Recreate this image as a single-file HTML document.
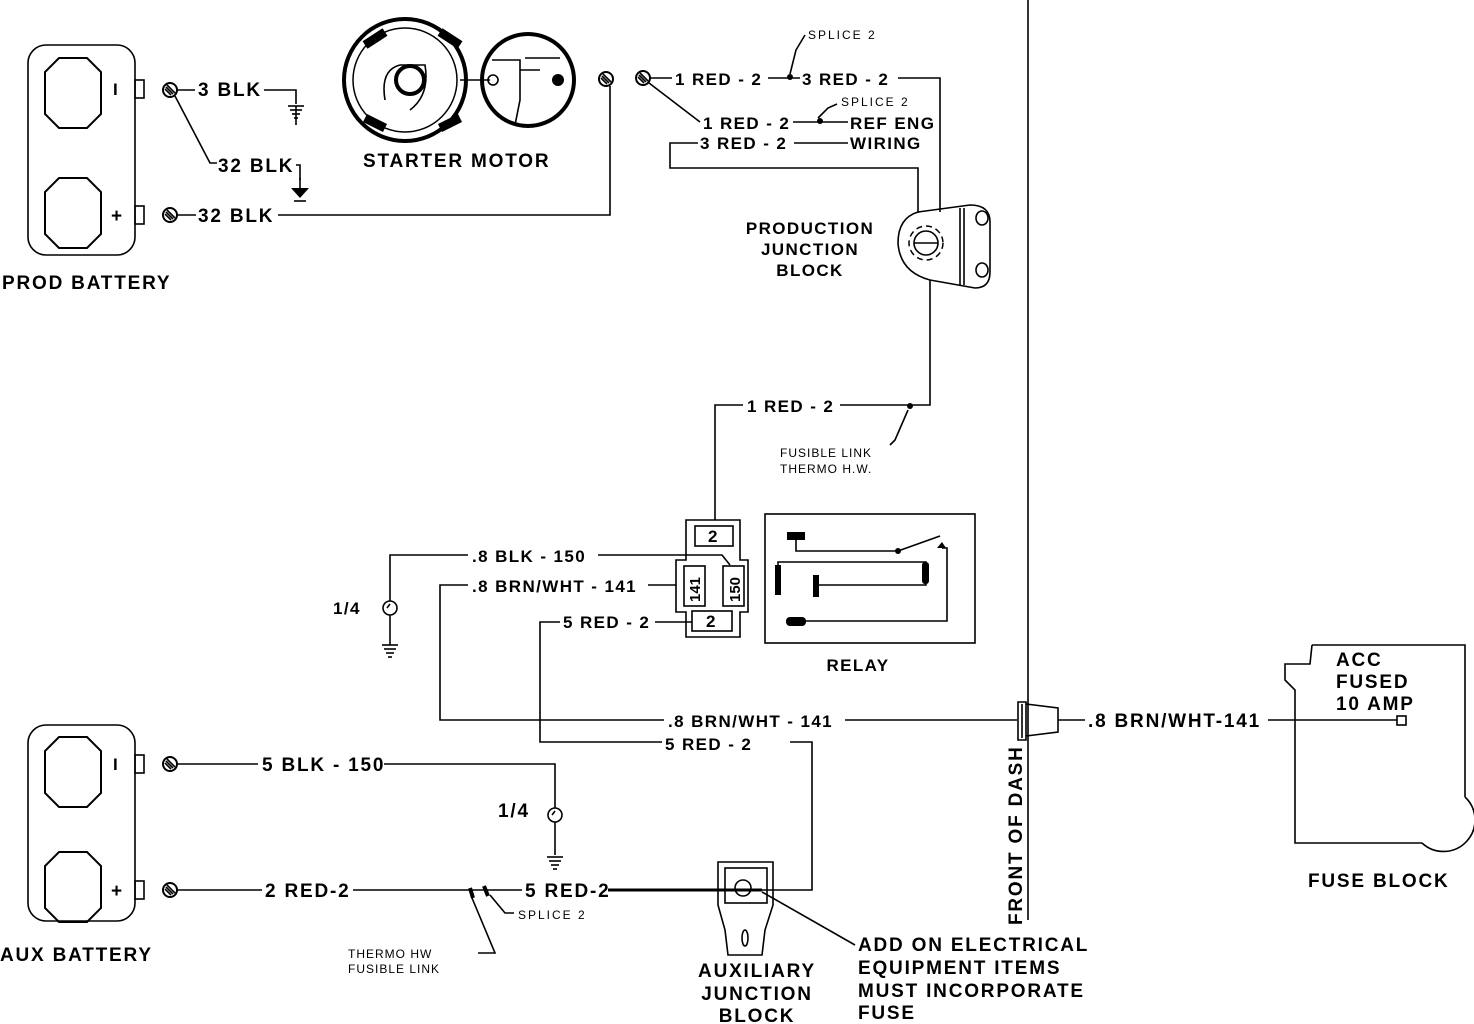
<!DOCTYPE html>
<html><head><meta charset="utf-8"><style>
html,body{margin:0;padding:0;background:#fff}
svg{display:block}
text{font-family:"Liberation Sans",Arial,sans-serif;font-weight:bold;fill:#000}
.b{font-size:19px;letter-spacing:1.8px}
.m{font-size:17px;letter-spacing:1.4px}
.s{font-size:12px;font-weight:normal;letter-spacing:1px}
.sp{font-size:12px;font-weight:normal;letter-spacing:2px}
.ln{stroke:#000;stroke-width:1.6;fill:none}
.th{stroke:#000;stroke-width:3;fill:none}
</style></head><body>
<svg width="1474" height="1024" viewBox="0 0 1474 1024" xmlns="http://www.w3.org/2000/svg">
<defs>
<g id="gnd"><line x1="0" y1="0" x2="0" y2="10" class="ln"/><path d="M-9,10 L9,10 L0,20 Z" fill="#000"/><line x1="-6" y1="23" x2="6" y2="23" class="ln"/></g>
<g id="gnds"><line x1="-8" y1="0" x2="8" y2="0" class="ln"/><line x1="-6" y1="4" x2="6" y2="4" class="ln"/><line x1="-4" y1="8" x2="4" y2="8" class="ln"/><line x1="-2" y1="12" x2="2" y2="12" class="ln"/></g>
<g id="term"><circle r="7" fill="#fff" stroke="#000" stroke-width="2"/><line x1="-4" y1="-3" x2="3" y2="4" class="ln"/><line x1="-3" y1="-5" x2="5" y2="3" class="ln"/><line x1="-5" y1="-1" x2="1" y2="5" class="ln"/></g>
<g id="oct"><path d="M14,0 L42,0 L56,14 L56,56 L42,70 L14,70 L0,56 L0,14 Z" fill="none" stroke="#000" stroke-width="2"/></g>
</defs>

<!-- PROD BATTERY -->
<rect x="28" y="45" width="107" height="210" rx="18" class="ln" stroke-width="2"/>
<use href="#oct" x="45" y="58"/><use href="#oct" x="45" y="178"/>
<rect x="135" y="80" width="9" height="18" class="ln"/><rect x="135" y="206" width="9" height="18" class="ln"/>
<text x="113" y="95" class="m" font-weight="normal">I</text><text x="111" y="222" class="b">+</text>
<use href="#term" x="170" y="90"/><use href="#term" x="170" y="215"/>
<line x1="177" y1="90" x2="195" y2="90" class="ln"/>
<text x="198" y="96" class="b">3 BLK</text>
<polyline points="264,90 296,90 296,104" class="ln"/><use href="#gnds" x="296" y="106"/><line x1="296" y1="106" x2="296" y2="125" class="ln"/>
<polyline points="175,96 210,163 217,163" class="ln"/>
<text x="218" y="172" class="b">32 BLK</text>
<polyline points="296,165 300,165 300,180" class="ln"/><use href="#gnd" x="300" y="178"/>
<line x1="177" y1="215" x2="196" y2="215" class="ln"/>
<text x="198" y="222" class="b">32 BLK</text>
<polyline points="278,215 610,215 610,86" class="ln"/>
<text x="2" y="289" class="b">PROD BATTERY</text>

<!-- STARTER MOTOR -->
<circle cx="405" cy="80" r="61" fill="none" stroke="#000" stroke-width="4"/>
<circle cx="405" cy="80" r="52" fill="none" stroke="#000" stroke-width="1.5"/>
<circle cx="528" cy="80" r="46" fill="none" stroke="#000" stroke-width="4"/>
<path d="M365,45 L385,32 M440,32 L460,45 M365,118 L385,128 M440,128 L460,118" stroke="#000" stroke-width="9" fill="none"/>
<circle cx="410" cy="80" r="14" fill="none" stroke="#000" stroke-width="4"/>
<path d="M385,100 Q380,70 400,65 L425,65 Q430,95 410,110" class="ln"/>
<line x1="460" y1="80" x2="490" y2="80" class="ln" stroke-width="2"/>
<circle cx="493" cy="80" r="5" class="ln"/>
<path d="M492,60 L520,60 L520,100 L515,125 M525,58 L560,58 M520,70 L540,70" class="ln" stroke-width="2.5"/>
<circle cx="558" cy="80" r="6" fill="#000"/>
<text x="363" y="167" class="b">STARTER  MOTOR</text>

<use href="#term" x="606" y="79"/><use href="#term" x="643" y="78"/>
<line x1="650" y1="78" x2="672" y2="78" class="ln"/>
<text x="675" y="85" class="m">1  RED - 2</text>
<line x1="768" y1="78" x2="800" y2="78" class="ln"/>
<circle cx="790" cy="77" r="3" fill="#000"/>
<polyline points="790,74 796,50 805,35" class="ln"/>
<text x="808" y="39" class="sp">SPLICE  2</text>
<text x="802" y="85" class="m">3  RED - 2</text>
<polyline points="898,78 940,78 940,212" class="ln"/>
<polyline points="649,83 700,122" class="ln"/>
<text x="703" y="129" class="m">1  RED - 2</text>
<line x1="793" y1="122" x2="848" y2="122" class="ln"/>
<circle cx="820" cy="121" r="3" fill="#000"/>
<polyline points="818,118 828,108 837,104" class="ln"/>
<text x="841" y="106" class="sp">SPLICE  2</text>
<text x="850" y="129" class="m">REF  ENG</text>
<polyline points="698,143 670,143 670,168 918,168 918,213" class="ln"/>
<text x="700" y="149" class="m">3  RED - 2</text>
<line x1="794" y1="143" x2="848" y2="143" class="ln"/>
<text x="850" y="149" class="m">WIRING</text>

<!-- PRODUCTION JUNCTION BLOCK -->
<path d="M918,212 L970,205 Q990,205 990,222 L990,272 Q990,288 975,288 L930,280 Q900,272 898,243 Q898,218 918,212 Z" class="ln" stroke-width="2"/>
<line x1="960" y1="208" x2="960" y2="285" class="ln"/><line x1="964" y1="208" x2="964" y2="285" class="ln"/>
<ellipse cx="982" cy="218" rx="6" ry="7" class="ln"/><ellipse cx="982" cy="270" rx="6" ry="7" class="ln"/>
<circle cx="926" cy="243" r="12" class="ln" stroke-width="2.5"/>
<circle cx="926" cy="243" r="17" fill="none" stroke="#000" stroke-width="1.5" stroke-dasharray="6,4"/>
<line x1="914" y1="243" x2="938" y2="243" class="ln"/>
<text x="810" y="234" class="m" text-anchor="middle">PRODUCTION</text>
<text x="810" y="255" class="m" text-anchor="middle">JUNCTION</text>
<text x="810" y="276" class="m" text-anchor="middle">BLOCK</text>
<polyline points="930,280 930,405 840,405" class="ln"/>
<text x="747" y="412" class="m">1  RED - 2</text>
<polyline points="743,405 715,405 715,520" class="ln"/>
<circle cx="910" cy="406" r="3" fill="#000"/>
<polyline points="908,410 895,440 890,445" class="ln"/>
<text x="780" y="457" class="s">FUSIBLE LINK</text>
<text x="780" y="473" class="s">THERMO H.W.</text>

<!-- RELAY CONNECTOR -->
<path d="M686,520 L740,520 L740,560 L748,560 L748,612 L740,612 L740,637 L686,637 L686,612 L676,612 L676,560 L686,560 Z" class="ln" stroke-width="2"/>
<rect x="695" y="526" width="38" height="20" class="ln"/><text x="708" y="542" class="m">2</text>
<rect x="684" y="566" width="21" height="40" class="ln"/><text x="700" y="602" font-size="15" transform="rotate(-90 700 602)">141</text>
<rect x="723" y="566" width="21" height="40" class="ln"/><text x="740" y="602" font-size="15" transform="rotate(-90 740 602)">150</text>
<rect x="692" y="611" width="40" height="20" class="ln"/><text x="706" y="627" class="m">2</text>
<text x="472" y="562" class="m">.8  BLK - 150</text>
<polyline points="598,555 722,555 730,565" class="ln"/>
<polyline points="468,555 390,555 390,601" class="ln"/>
<circle cx="390" cy="608" r="7" class="ln"/><line x1="387" y1="608" x2="390" y2="604" class="ln"/>
<line x1="390" y1="615" x2="390" y2="645" class="ln"/><use href="#gnds" x="390" y="645"/>
<text x="333" y="614" class="m">1/4</text>
<text x="472" y="592" class="m">.8  BRN/WHT - 141</text>
<line x1="648" y1="585" x2="676" y2="585" class="ln"/>
<polyline points="468,585 440,585 440,720 664,720" class="ln"/>
<text x="563" y="628" class="m">5  RED - 2</text>
<line x1="655" y1="622" x2="692" y2="622" class="ln"/>
<polyline points="560,622 540,622 540,742 662,742" class="ln"/>

<!-- RELAY -->
<rect x="765" y="514" width="210" height="129" class="ln" stroke-width="2"/>
<rect x="787" y="532" width="18" height="8" fill="#000"/>
<polyline points="796,540 796,551 898,551" class="ln"/>
<circle cx="898" cy="551" r="3" fill="#000"/>
<line x1="898" y1="551" x2="940" y2="536" class="ln"/>
<path d="M937,548 L942,542 L946,548 Z" fill="#000"/>
<polyline points="942,548 947,548 947,621 800,621" class="ln"/>
<rect x="786" y="617" width="20" height="9" rx="4" fill="#000"/>
<rect x="775" y="565" width="6" height="30" fill="#000"/>
<rect x="813" y="575" width="6" height="22" fill="#000"/>
<polyline points="778,565 778,562 926,562 926,585 819,585" class="ln"/>
<rect x="922" y="562" width="7" height="22" rx="3" fill="#000"/>
<text x="858" y="671" class="m" text-anchor="middle">RELAY</text>

<!-- MAIN BRN/WHT -->
<text x="668" y="727" class="m">.8  BRN/WHT - 141</text>
<line x1="845" y1="720" x2="1017" y2="720" class="ln"/>
<text x="665" y="750" class="m">5  RED - 2</text>
<polyline points="790,742 812,742 812,890 762,890" class="ln"/>

<!-- DASH -->
<line x1="1028" y1="0" x2="1028" y2="920" class="ln" stroke-width="2"/>
<text x="1022" y="925" class="b" font-weight="normal" transform="rotate(-90 1022 925)">FRONT OF DASH</text>
<path d="M1018,702 L1026,702 L1026,740 L1018,740 Z M1026,704 L1058,708 L1058,732 L1026,736" class="ln" stroke-width="2"/>
<line x1="1022" y1="704" x2="1022" y2="738" class="ln"/>
<line x1="1058" y1="720" x2="1085" y2="720" class="ln"/>
<text x="1088" y="727" class="b">.8 BRN/WHT-141</text>
<line x1="1268" y1="720" x2="1397" y2="720" class="ln"/>
<rect x="1397" y="716" width="9" height="9" class="ln"/>

<!-- FUSE BLOCK -->
<path d="M1312,645 L1465,645 L1465,797 M1422,843 L1295,843 L1295,690 L1285,680 L1285,664 L1310,664 L1312,645" class="ln" stroke-width="2"/>
<path d="M1465,797 A24,24 0 1,1 1422,843" class="ln" stroke-width="1.6"/>
<text x="1336" y="666" class="b">ACC</text>
<text x="1336" y="688" class="b">FUSED</text>
<text x="1336" y="710" class="b">10 AMP</text>
<text x="1308" y="887" class="b">FUSE BLOCK</text>

<!-- AUX BATTERY -->
<rect x="28" y="725" width="107" height="196" rx="18" class="ln" stroke-width="2"/>
<use href="#oct" x="45" y="737"/><use href="#oct" x="45" y="852"/>
<rect x="135" y="755" width="9" height="18" class="ln"/><rect x="135" y="881" width="9" height="18" class="ln"/>
<text x="113" y="770" class="m" font-weight="normal">I</text><text x="111" y="897" class="b">+</text>
<use href="#term" x="170" y="764"/><use href="#term" x="170" y="890"/>
<text x="0" y="961" class="b">AUX BATTERY</text>
<line x1="177" y1="764" x2="258" y2="764" class="ln"/>
<text x="262" y="771" class="b">5 BLK - 150</text>
<polyline points="384,764 555,764 555,808" class="ln"/>
<circle cx="555" cy="815" r="7" class="ln"/><line x1="552" y1="815" x2="555" y2="811" class="ln"/>
<line x1="555" y1="822" x2="555" y2="855" class="ln"/><use href="#gnds" x="555" y="857"/>
<text x="498" y="817" class="b">1/4</text>
<line x1="177" y1="890" x2="262" y2="890" class="ln"/>
<text x="265" y="897" class="b">2 RED-2</text>
<line x1="353" y1="890" x2="522" y2="890" class="ln"/>
<line x1="470" y1="888" x2="473" y2="898" stroke="#000" stroke-width="4"/>
<line x1="484" y1="886" x2="488" y2="896" stroke="#000" stroke-width="4"/>
<polyline points="490,895 505,913 514,913" class="ln"/>
<text x="518" y="919" class="sp">SPLICE  2</text>
<polyline points="472,898 495,953 478,953" class="ln"/>
<text x="348" y="958" class="s">THERMO HW</text>
<text x="348" y="973" class="s">FUSIBLE LINK</text>
<text x="525" y="897" class="b">5 RED-2</text>
<line x1="608" y1="890" x2="762" y2="890" class="th"/>

<!-- AUX JUNCTION -->
<path d="M718,862 L773,862 L773,905 L765,930 L762,955 L728,955 L725,930 L718,905 Z" class="ln" stroke-width="2"/>
<rect x="725" y="868" width="42" height="35" class="ln"/>
<circle cx="743" cy="888" r="8" class="ln"/>
<ellipse cx="745" cy="938" rx="3" ry="8" class="ln"/>
<text x="757" y="977" class="b" text-anchor="middle">AUXILIARY</text>
<text x="757" y="1000" class="b" text-anchor="middle">JUNCTION</text>
<text x="757" y="1022" class="b" text-anchor="middle">BLOCK</text>
<line x1="762" y1="892" x2="855" y2="945" class="ln"/>
<text x="858" y="951" class="b">ADD ON ELECTRICAL</text>
<text x="858" y="974" class="b">EQUIPMENT ITEMS</text>
<text x="858" y="997" class="b">MUST INCORPORATE</text>
<text x="858" y="1019" class="b">FUSE</text>
</svg>
</body></html>
